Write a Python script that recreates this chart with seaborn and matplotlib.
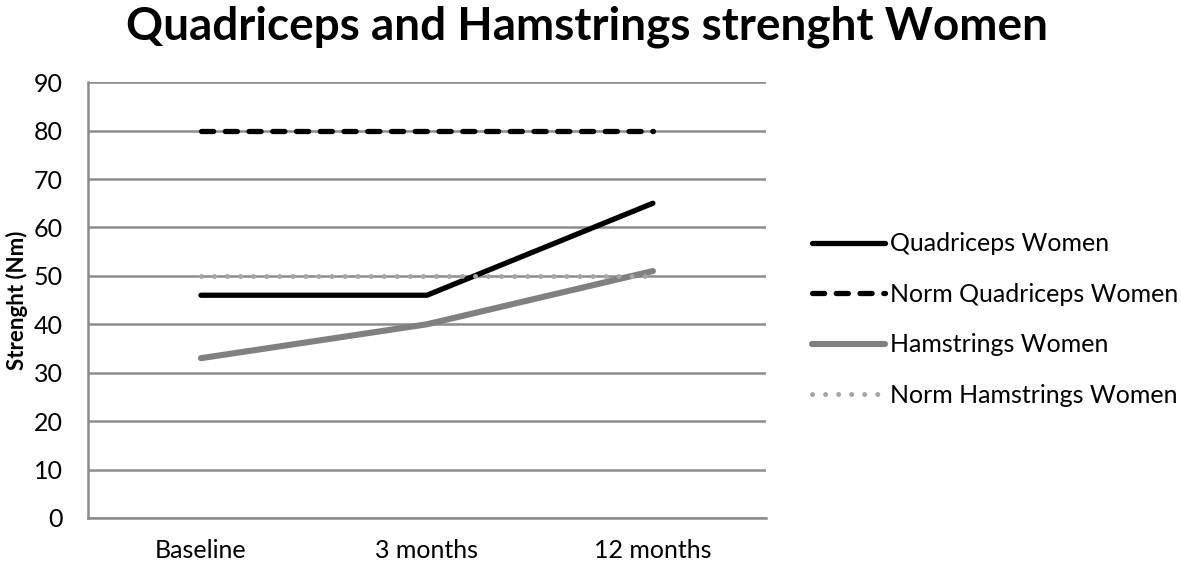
import numpy as np
import pandas as pd
import seaborn as sns
import matplotlib.pyplot as plt

# data
categories = ["Baseline", "3 months", "12 months"]
quad_women = [46, 46, 65]
norm_quad_women = [80, 80, 80]
ham_women = [33, 40, 51]
norm_ham_women = [50, 50, 50]

series_names = ["Quadriceps Women", "Norm Quadriceps Women", "Hamstrings Women", "Norm Hamstrings Women"]
series_values = [quad_women, norm_quad_women, ham_women, norm_ham_women]

rows = []
for name, vals in zip(series_names, series_values):
    for c, v in zip(categories, vals):
        rows.append({"time": c, "series": name, "value": v})
df = pd.DataFrame(rows)

sns.set_theme(style="white")
plt.rcParams['font.family'] = ['Lato', 'DejaVu Sans']
plt.rcParams['text.color'] = 'black'
plt.rcParams['axes.labelcolor'] = 'black'

fig = plt.figure(figsize=(11.81, 5.63), dpi=100)
ax = fig.add_axes([0.0745, 0.080, 0.574, 0.774])

styles = {
    "Quadriceps Women": dict(color="black", linestyle="-", linewidth=3.8),
    "Norm Quadriceps Women": dict(color="black", linestyle=(0, (2.3, 2.2)), linewidth=3.8),
    "Hamstrings Women": dict(color="#808080", linestyle="-", linewidth=4.4),
    "Norm Hamstrings Women": dict(color="#a6a6a6", linestyle=(0, (0.01, 2.6)), linewidth=3.6),
}

x_pos = np.arange(len(categories))
for name in series_names:
    sub = df[df["series"] == name]
    sub = sub.assign(x=[categories.index(t) for t in sub["time"]])
    st = styles[name]
    sns.lineplot(data=sub, x="x", y="value", ax=ax, label=name,
                 color=st["color"], linewidth=st["linewidth"],
                 linestyle=st["linestyle"], solid_capstyle="round",
                 dash_capstyle="round")

ax.set_xlim(-0.5, 2.5)
ax.set_ylim(0, 90)
ax.set_yticks(range(0, 91, 10))
ax.set_xticks(x_pos)
ax.set_xticklabels(categories)
ax.tick_params(axis="both", labelsize=18, length=0, colors="black")
ax.tick_params(axis="x", pad=15)
ax.tick_params(axis="y", pad=18)
ax.grid(axis="y", color="#8c8c8c", linewidth=1.8)
ax.set_axisbelow(True)
for s in ["top", "right"]:
    ax.spines[s].set_visible(False)
for s in ["left", "bottom"]:
    ax.spines[s].set_color("#8c8c8c")
    ax.spines[s].set_linewidth(1.8)

ax.set_xlabel("")
ax.set_ylabel("Strenght (Nm)", fontsize=16, fontweight="bold", labelpad=4, color="black")

fig.suptitle("Quadriceps and Hamstrings strenght Women", fontsize=33,
             fontweight="bold", x=0.497, y=0.99, color="black")

leg = ax.legend(loc="center left", bbox_to_anchor=(1.035, 0.455), frameon=False,
                fontsize=18, handlelength=2.9, handletextpad=0.2, labelspacing=1.1)
for t in leg.get_texts():
    t.set_color("black")

plt.savefig("out.png", dpi=100)
